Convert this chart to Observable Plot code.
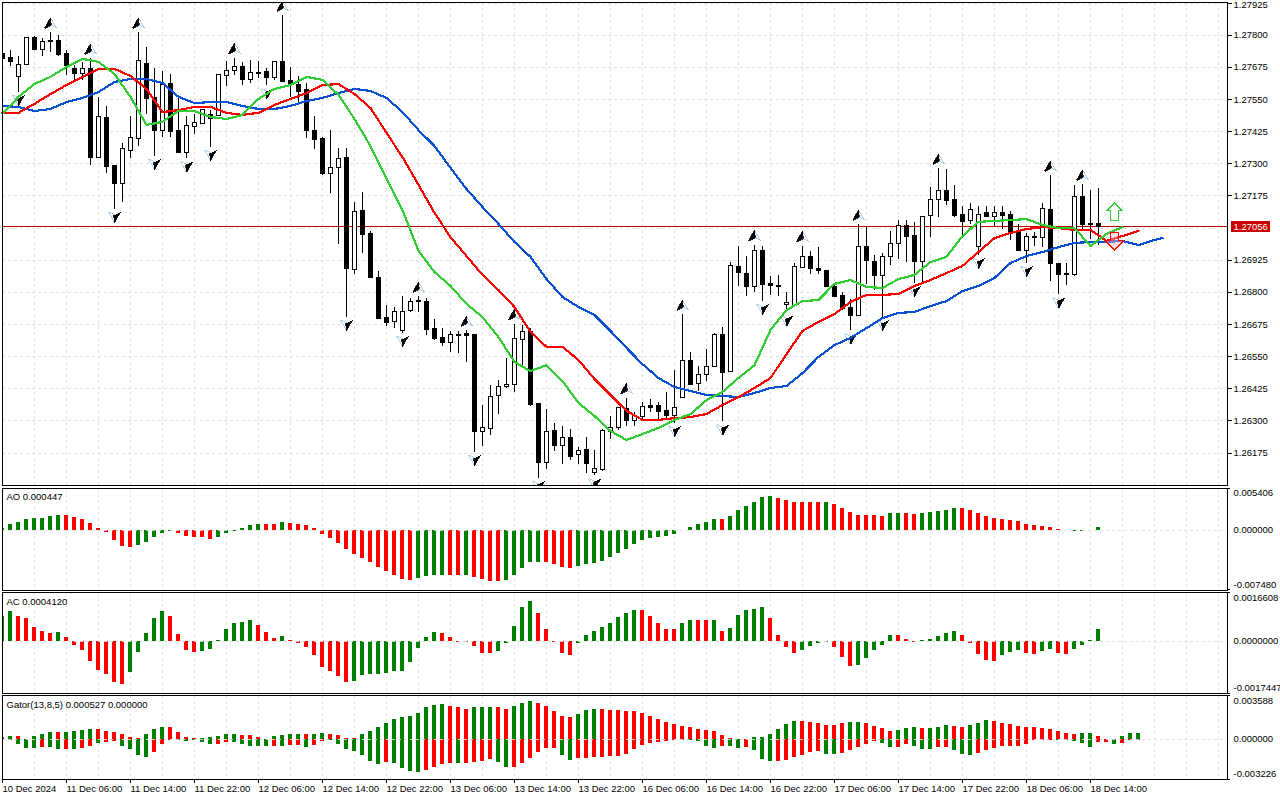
<!DOCTYPE html>
<html>
<head>
<meta charset="utf-8">
<script src="https://cdn.jsdelivr.net/npm/d3@7"></script>
<script src="https://cdn.jsdelivr.net/npm/@observablehq/plot@0.6"></script>
<style>
html,body{margin:0;padding:0;background:#fff;overflow:hidden}
#chart{position:relative;width:1280px;height:800px;background:#fff}
</style>
</head>
<body>
<div id="chart"></div>
<script>
// All prices and indicator values are in points (1 point = 0.00001).
const high = [127743,127739,127719,127789,127793,127789,127809,127797,127739,127684,127692,127708,127556,127521,127291,127377,127482,127809,127754,127669,127657,127649,127556,127482,127490,127509,127509,127649,127696,127711,127692,127700,127696,127669,127696,127875,127673,127638,127614,127482,127404,127431,127361,127358,127148,127190,127035,126883,126747,126743,126782,126778,126782,126778,126693,126658,126646,126646,126650,126634,126362,126436,126459,126541,126677,126673,126658,126366,126346,126292,126280,126265,126195,126237,126187,126265,126319,126354,126389,126331,126370,126385,126370,126409,126498,126712,126568,126510,126576,126642,126665,126918,126980,126941,126984,126980,126860,126864,126801,126914,126980,126957,126973,126883,126836,126801,126774,127062,127058,126945,126953,127035,127078,127078,127070,127093,127206,127280,127276,127214,127132,127144,127132,127132,127132,127132,127116,127062,127027,127031,127144,127253,126910,126914,127214,127218,127198,127202];
const open = [127727,127711,127638,127684,127789,127743,127774,127778,127727,127669,127649,127669,127323,127478,127291,127221,127350,127396,127688,127556,127428,127610,127428,127342,127443,127455,127490,127486,127641,127661,127676,127626,127649,127657,127634,127696,127622,127606,127587,127428,127396,127260,127284,127323,126887,127116,127027,126856,126700,126685,126650,126728,126763,126763,126658,126623,126603,126630,126638,126634,126257,126269,126397,126432,126440,126615,126646,126366,126136,126261,126203,126234,126167,126187,126098,126109,126257,126273,126346,126300,126315,126358,126358,126339,126319,126389,126533,126444,126479,126510,126634,126490,126899,126871,126821,126961,126833,126821,126751,126747,126895,126938,126891,126883,126821,126786,126739,126708,126976,126918,126864,126938,126988,127058,127019,126918,127097,127159,127194,127159,127101,127078,126976,127109,127093,127109,127101,127031,126961,127011,127011,127120,126910,126871,126868,127171,127062,127066];
const close = [127708,127696,127684,127789,127743,127774,127778,127723,127680,127649,127669,127323,127482,127288,127221,127358,127400,127700,127552,127428,127606,127424,127342,127447,127459,127509,127474,127645,127661,127676,127626,127653,127653,127634,127696,127618,127606,127579,127428,127393,127260,127284,127319,126891,127113,127023,126856,126696,126681,126724,126724,126763,126766,126654,126619,126603,126634,126634,126630,126257,126273,126393,126432,126440,126619,126646,126362,126136,126257,126203,126234,126160,126183,126132,126113,126261,126273,126350,126300,126319,126354,126350,126335,126319,126350,126533,126440,126479,126510,126634,126486,126903,126875,126821,126961,126829,126825,126825,126759,126899,126938,126891,126883,126821,126782,126735,126708,126976,126922,126864,126938,126988,127058,127015,126918,127093,127159,127194,127155,127097,127074,127120,127101,127093,127109,127097,127031,126961,127015,127015,127124,126910,126868,126868,127171,127062,127066,127056];
const low = [127688,127680,127579,127684,127739,127719,127731,127719,127645,127622,127622,127295,127319,127264,127124,127151,127319,127369,127490,127330,127404,127404,127338,127319,127412,127455,127365,127486,127599,127645,127603,127614,127630,127603,127622,127618,127556,127536,127400,127354,127256,127186,126988,126704,126868,126953,126856,126696,126669,126658,126642,126720,126720,126634,126611,126591,126568,126564,126529,126179,126199,126245,126327,126428,126409,126510,126358,126078,126113,126183,126129,126148,126132,126094,126086,126105,126226,126261,126280,126280,126304,126331,126304,126311,126292,126389,126436,126413,126455,126506,126296,126490,126821,126782,126801,126766,126786,126782,126720,126747,126895,126868,126868,126817,126782,126731,126650,126708,126829,126809,126704,126906,126926,126918,126836,126836,127015,127093,127136,127093,127023,127062,126945,127093,127058,127043,127000,126957,126914,126980,126976,126844,126790,126825,126860,127046,127004,126984];

// Alligator lines, read at every second bar.
const lips = [127494,127560,127610,127638,127676,127708,127696,127649,127560,127451,127463,127505,127505,127482,127474,127490,127552,127591,127606,127638,127626,127568,127474,127369,127241,127120,126961,126879,126825,126755,126704,126626,126529,126494,126517,126455,126370,126319,126261,126226,126249,126273,126304,126327,126381,126413,126467,126517,126654,126731,126766,126770,126833,126848,126821,126817,126852,126868,126918,126938,127019,127074,127078,127081,127085,127062,127050,127050,126980,127027,127054];
const teeth = [127498,127498,127533,127571,127606,127638,127669,127669,127641,127591,127501,127509,127521,127521,127498,127490,127498,127529,127552,127575,127606,127610,127571,127517,127420,127326,127218,127109,127015,126941,126868,126809,126743,126646,126588,126588,126537,126463,126401,126339,126304,126304,126311,126315,126327,126362,126393,126428,126467,126560,126650,126685,126716,126763,126790,126790,126794,126825,126848,126875,126903,126957,127011,127031,127046,127054,127050,127043,127043,127000,127019,127039];
const jaw = [127525,127521,127505,127513,127540,127556,127579,127618,127630,127630,127614,127560,127536,127540,127540,127525,127513,127513,127525,127544,127556,127575,127591,127583,127556,127501,127431,127369,127284,127202,127132,127066,126996,126938,126852,126782,126743,126712,126650,126584,126521,126467,126432,126416,126401,126397,126393,126409,126428,126436,126486,126549,126595,126623,126661,126700,126720,126724,126747,126766,126805,126825,126856,126914,126941,126957,126976,126992,126996,126996,127000,126984,127004,127011];
const jawBars = d3.range(0, 145, 2).concat([145]);

const upFractals = [6,11,17,29,35,52,58,64,78,85,94,100,107,117,131,135];
const downFractals = [2,14,19,23,26,33,43,50,59,67,74,84,90,95,98,106,110,114,122,128,132];
const signalBar = 139;
const signalUpPrice = 127116;
const signalDownPrice = 126999;
const lastPrice = 127056;
const priceTicks = [127925,127800,127675,127550,127425,127300,127175,126925,126800,126675,126550,126425,126300,126175];

const aoValues = [21,77,102,140,153,153,179,191,191,166,140,89,26,-26,-128,-204,-217,-191,-153,-89,-38,-9,-38,-77,-89,-89,-115,-89,-38,-9,26,64,77,77,77,102,89,77,64,26,-51,-102,-166,-242,-306,-357,-408,-472,-523,-574,-625,-638,-612,-587,-574,-574,-574,-574,-574,-599,-625,-650,-650,-638,-574,-485,-408,-408,-408,-434,-472,-485,-459,-434,-421,-395,-344,-293,-242,-179,-128,-102,-89,-77,-51,4,38,77,102,140,140,179,255,306,357,421,434,408,383,357,357,357,357,357,332,281,230,191,191,191,179,217,217,217,204,217,230,242,255,281,281,255,217,179,153,140,128,115,77,64,51,38,13,-4,-9,-9,-4,45];
const aoColors = "gggggggg rrrrrrrrr ggggg rrrrr gggggg rr g rrrrrrrrrrrrrrrr g ggg rr g rrrr ggggg rrrr gggggggggggggggggg r gggggg rrrrrr g r rrrrrr gg rr ggggg rrrrrrrrrrrrrr gggg".replace(/ /g,"").split("");
const acValues = [84,101,84,78,47,34,27,30,13,-13,-30,-67,-98,-111,-138,-145,-105,-37,27,78,101,84,24,-30,-37,-34,-27,3,40,61,64,71,54,30,10,17,3,-6,-20,-47,-88,-101,-118,-138,-135,-115,-111,-111,-108,-101,-101,-71,-24,13,30,27,13,-1,-1,-17,-40,-40,-34,-7,51,115,135,94,40,-2,-40,-47,-6,20,34,47,61,81,94,105,105,84,61,40,40,61,71,71,71,71,34,44,88,105,108,115,78,20,-20,-40,-30,-17,-6,-1,-20,-54,-84,-81,-57,-30,-13,20,20,7,-2,3,7,17,27,34,20,-6,-44,-64,-67,-47,-37,-30,-40,-44,-34,-27,-40,-44,-27,-13,3,41];
const acColors = "gg rrrrr g rrrrrrrr ggggg rrrr ggggggg rrr g rrrrrrrr ggggggggggg rrrrrrr ggggg rrrrr gggggggg rrrrr gg rr g r ggggg rrrr gggg rrr ggggg rrr ggggg rrrrr ggg rr gg rr gggg".replace(/ /g,"").split("");
const gatorUp = [16,27,27,5,27,44,60,60,60,69,77,85,85,69,60,44,19,11,44,85,101,101,60,19,11,11,19,27,44,44,36,36,19,3,27,36,44,44,44,44,52,44,36,11,11,44,69,101,134,167,184,192,216,258,274,282,266,258,249,258,258,258,258,249,266,290,307,290,266,225,192,184,208,241,249,249,241,241,233,233,216,192,167,142,126,110,101,85,77,69,36,11,3,3,19,19,44,85,126,151,151,142,134,118,118,134,142,142,134,110,93,69,77,93,101,93,93,101,118,110,101,118,134,159,151,134,126,110,101,101,93,85,69,52,44,52,52,27,0,0,27,52,52];
const gatorUpColors = "ggrggggrgg ggrrrrrrgg grrrrggggg rrrgggggrg grrrrggggg ggggggrrrg ggrrgggrrr rrgggrrrrr rrrrrrrrrr rrrrgggggg rrrrrrggrr rrgggrgggr rgggrrrrrr rrrrrggrrr ggg".replace(/ /g,"").split("");
const gatorDown = [0,-5,-38,-71,-71,-63,-63,-79,-79,-79,-71,-55,-30,-22,-14,-55,-79,-129,-145,-104,-38,-5,-5,-14,-5,-22,-38,-38,-22,-22,-38,-55,-55,-55,-55,-55,-47,-47,-63,-47,-14,-5,-38,-79,-96,-129,-178,-203,-186,-195,-236,-260,-269,-252,-227,-203,-195,-195,-195,-186,-178,-162,-186,-227,-227,-195,-153,-104,-71,-71,-129,-170,-153,-153,-145,-145,-137,-137,-121,-79,-47,-30,-22,-14,-5,-5,-5,-14,-55,-71,-55,-55,-71,-63,-88,-162,-178,-178,-170,-145,-129,-104,-96,-121,-121,-112,-88,-63,-38,-14,-30,-63,-63,-38,-55,-79,-79,-63,-63,-88,-121,-129,-112,-88,-71,-55,-55,-55,-38,-5,-5,-5,-5,-5,-14,-30,-63,-22,-22,-38,-30,-5,-5];
const gatorDownColors = "grgggrggrg rrgrrggggr rrgggggrrg ggggrgrrgr rgggggggrg gggrrrrgrr rrggrrrrrr ggrrrrrrrr rrrrrggggg rggrgggrrr rrrggrrrrr ggrrgggrrg ggrrrrrrrr rrgrgggrrg rrr".replace(/ /g,"").split("");

const timeBars = d3.range(0, 137, 8);
const timeLabels = ["10 Dec 2024","11 Dec 06:00","11 Dec 14:00","11 Dec 22:00","12 Dec 06:00","12 Dec 14:00","12 Dec 22:00","13 Dec 06:00","13 Dec 14:00","13 Dec 22:00","16 Dec 06:00","16 Dec 14:00","16 Dec 22:00","17 Dec 06:00","17 Dec 14:00","17 Dec 22:00","18 Dec 06:00","18 Dec 14:00"];
const gridBars = d3.range(4, 153, 4);
const gridPrices = priceTicks.concat([127050]);

const GREEN = "#008000", RED = "#ff0000";
const hist = c => c === "g" ? GREEN : RED;
const FONT = "'Liberation Sans', Arial, sans-serif";
const FS = "9.5px";
const xScale = {domain: [0, 153.125], range: [2, 1227], axis: null};
const dash = {stroke: "#e2e2e2", strokeDasharray: "3,3"};

const candles = high.map((h, i) => ({i, high: h, low: low[i], open: open[i], close: close[i]}));
const series = (values, bars) => values.map((v, k) => ({bar: bars ? bars[k] : k * 2, v}));

function path(points) {
  return {draw(c) {
    points.forEach(([x, y], k) => k ? c.lineTo(x, y) : c.moveTo(x, y));
    c.closePath();
  }};
}
const upFull = path([[0,-5.5],[6,5],[0,2],[-6,5]]);
const upHalf = path([[0,-5.5],[0.8,2],[0,2],[-6,5]]);
const downFull = path([[0,5.5],[6,-5],[0,-2],[-6,-5]]);
const downHalf = path([[0,5.5],[-0.8,-2],[0,-2],[6,-5]]);
const signalUpShape = path([[0,-8.5],[8,-0.5],[4,-0.5],[4,9.5],[-4,9.5],[-4,-0.5],[-8,-0.5]]);
const signalDownShape = path([[0,9],[9,-0.5],[4,-0.5],[4,-8.5],[-4,-8.5],[-4,-0.5],[-9,-0.5]]);
const tagShape = {draw(c) { c.rect(0, -5.5, 39, 11); }};
const priceFmt = d => (d / 1e5).toFixed(5);

function place(svg, top) {
  svg.style.position = "absolute";
  svg.style.left = "0px";
  svg.style.top = top + "px";
  document.getElementById("chart").appendChild(svg);
}
const baseStyle = {background: "transparent", fontFamily: FONT, fontSize: FS, color: "#000", shapeRendering: "crispEdges", overflow: "visible"};

// main price panel
place(Plot.plot({
  width: 1280, height: 486,
  marginLeft: 2, marginRight: 53, marginTop: 2, marginBottom: 1,
  style: baseStyle,
  x: xScale,
  y: {domain: [127929, 126051], range: [1.5, 484.5], axis: null},
  color: {type: "identity"},
  marks: [
    Plot.ruleX(gridBars, {x: d => d, ...dash}),
    Plot.ruleY(gridPrices, {y: d => d, ...dash}),
    Plot.ruleY([lastPrice], {y: d => d, stroke: "#b80000"}),
    Plot.ruleX(candles, {x: "i", y1: "low", y2: "high", stroke: "#000", clip: true}),
    Plot.rect(candles, {x1: d => d.i - 0.25, x2: d => d.i + 0.25, y1: "open", y2: "close", fill: d => d.close >= d.open ? "#fff" : "#000", stroke: "#000", clip: true}),
    Plot.dot(upFractals, {x: d => d, y: d => high[d], dy: -9.5, r: 1, symbol: upFull, fill: "#fff", stroke: "#8db6e2", strokeWidth: 0.7, shapeRendering: "auto", clip: true}),
    Plot.dot(upFractals, {x: d => d, y: d => high[d], dy: -9.5, r: 1, symbol: upHalf, fill: "#000", stroke: "#000", strokeWidth: 0.8, shapeRendering: "auto", clip: true}),
    Plot.dot(downFractals, {x: d => d, y: d => low[d], dy: 8, r: 1, symbol: downFull, fill: "#fff", stroke: "#8db6e2", strokeWidth: 0.7, shapeRendering: "auto", clip: true}),
    Plot.dot(downFractals, {x: d => d, y: d => low[d], dy: 8, r: 1, symbol: downHalf, fill: "#000", stroke: "#000", strokeWidth: 0.8, shapeRendering: "auto", clip: true}),
    Plot.line(series(jaw, jawBars), {x: "bar", y: "v", stroke: "#0a50d2", strokeWidth: 2.2, curve: "linear"}),
    Plot.line(series(teeth), {x: "bar", y: "v", stroke: "#ff0000", strokeWidth: 2.2, curve: "linear"}),
    Plot.line(series(lips), {x: "bar", y: "v", stroke: "#32cd32", strokeWidth: 2.2, curve: "linear"}),
    Plot.dot([signalBar], {x: d => d, y: () => signalUpPrice, r: 1, symbol: signalUpShape, fill: "#fff", stroke: "#32cd32", strokeWidth: 1.4}),
    Plot.dot([signalBar], {x: d => d, y: () => signalDownPrice, r: 1, symbol: signalDownShape, fill: "#ffb6c1", fillOpacity: 0.45, stroke: "#ff0000", strokeWidth: 1.2}),
    Plot.axisY({anchor: "right", ticks: priceTicks, tickSize: 4, tickPadding: 2, label: null, tickFormat: d => d === priceTicks[0] ? "" : priceFmt(d), textAnchor: "start"}),
    Plot.text(priceTicks.slice(0, 1), {frameAnchor: "right", y: d => d, dx: 6, dy: 2, textAnchor: "start", text: priceFmt, fill: "#000"}),
    Plot.frame({stroke: "#000"}),
    Plot.dot([lastPrice], {frameAnchor: "right", y: d => d, dx: 3, r: 1, symbol: tagShape, fill: "#c80000", stroke: "none"}),
    Plot.text([lastPrice], {frameAnchor: "right", y: d => d, dx: 6, textAnchor: "start", text: priceFmt, fill: "#fff"})
  ]
}), 0);

function panel({top, height, marginBottom = 1, hi, lo, range, decimals, title, titleY, topDy, botDy, histMarks, extra = []}) {
  const fmt = d => (d / 1e5).toFixed(decimals);
  return place(Plot.plot({
    width: 1280, height,
    marginLeft: 2, marginRight: 53, marginTop: 0, marginBottom,
    style: baseStyle,
    x: xScale,
    y: {domain: [hi, lo], range, axis: null},
    color: {type: "identity"},
    marks: [
      Plot.ruleX(gridBars, {x: d => d, ...dash}),
      Plot.ruleY([0], {y: d => d, ...dash}),
      ...histMarks,
      Plot.ruleY([0], {y: d => d, ...dash, strokeOpacity: 0.9}),
      Plot.axisY({anchor: "right", ticks: [hi, lo], tickSize: 2, label: null, tickFormat: () => ""}),
      Plot.frame({stroke: "#000"}),
      Plot.text([title], {frameAnchor: "top-left", dx: 4, dy: titleY, lineAnchor: "middle", textAnchor: "start", text: d => d, fill: "#000"}),
      Plot.text([hi], {frameAnchor: "right", y: d => d, dx: 6, dy: topDy, textAnchor: "start", text: fmt, fill: "#000"}),
      Plot.text([0], {frameAnchor: "right", y: d => d, dx: 6, dy: -1, textAnchor: "start", text: fmt, fill: "#000"}),
      Plot.text([lo], {frameAnchor: "right", y: d => d, dx: 6, dy: botDy, textAnchor: "start", text: fmt, fill: "#000"}),
      ...extra
    ]
  }), top);
}
const histRect = (values, colors) => Plot.rect(values, {
  x1: (d, i) => i - 0.25, x2: (d, i) => i + 0.25,
  y1: () => 0, y2: d => d,
  fill: (d, i) => hist(colors[i]),
  clip: true
});

panel({top: 488, height: 103, hi: 540.6, lo: -748, range: [-0.5, 101], decimals: 6,
  title: "AO 0.000447", titleY: 8, topDy: 4.5, botDy: -5,
  histMarks: [histRect(aoValues, aoColors)]});
panel({top: 592, height: 102, hi: 166.08, lo: -174.47, range: [0, 101], decimals: 7,
  title: "AC 0.0004120", titleY: 9.3, topDy: 5, botDy: -5.7,
  histMarks: [histRect(acValues, acColors)]});
panel({top: 695, height: 105, marginBottom: 21, hi: 358.8, lo: -322.6, range: [0, 84], decimals: 6,
  title: "Gator(13,8,5) 0.000527 0.000000", titleY: 9.3, topDy: 5.5, botDy: -5.7,
  histMarks: [histRect(gatorUp, gatorUpColors), histRect(gatorDown, gatorDownColors)],
  extra: [Plot.axisX({anchor: "bottom", ticks: timeBars, tickSize: 4, tickPadding: 2, label: null, textAnchor: "start", tickFormat: d => timeLabels[d / 8]})]});
</script>
</body>
</html>
